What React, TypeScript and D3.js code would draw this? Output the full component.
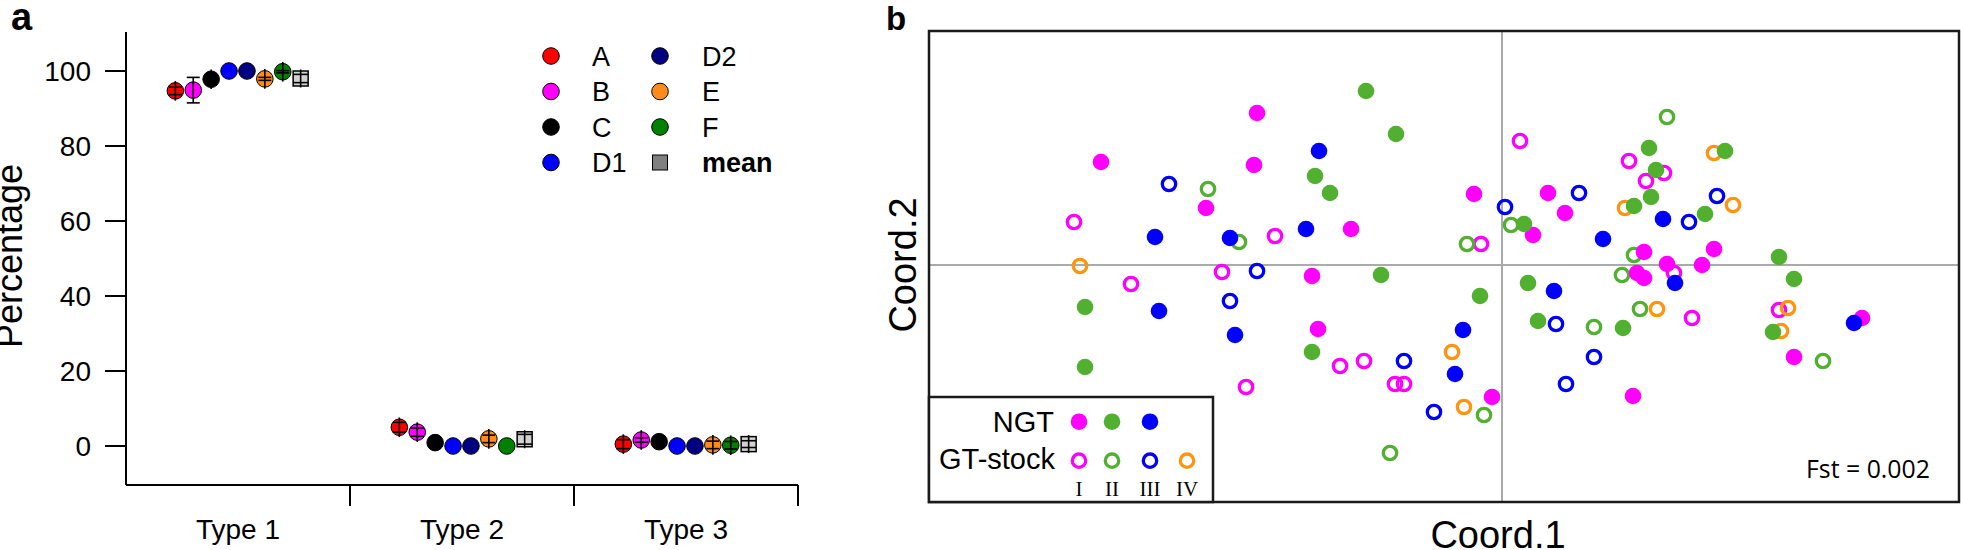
import React from 'react';
import * as d3 from 'd3';

// ---------- Panel a data ----------
const types = ['Type 1', 'Type 2', 'Type 3'];
const groups = ['A', 'B', 'C', 'D1', 'D2', 'E', 'F', 'mean'];
const groupColors = ['#ff0000', '#ff00ff', '#000000', '#0000ff', '#000080', '#ff8c1a', '#008000', '#d2d2d2'];
const legendColors = ['#ff0000', '#ff00ff', '#000000', '#0000ff', '#000080', '#ff8c1a', '#008000', '#808080'];
const type1Values = [94.7, 94.9, 97.8, 100, 100, 97.9, 99.8, 98.0];
const type1Errors = [1.0, 3.4, 0.8, 0, 0, 0.4, 0.3, 1.1];
const type2Values = [5.0, 3.7, 0.9, 0, 0, 1.9, 0, 1.8];
const type2Errors = [1.3, 1.1, 0, 0, 0, 1.0, 0, 1.3];
const type3Values = [0.5, 1.6, 1.15, 0, 0, 0.3, 0.2, 0.5];
const type3Errors = [1.2, 0.6, 0, 0, 0, 1.0, 1.0, 0.9];
const yTicks = [0, 20, 40, 60, 80, 100];

// ---------- Panel b data (Coord.1, Coord.2) ----------
const ngtI: [number, number][] = [
  [-2.45, 1.52], [-4.01, 1.03], [-2.48, 1.0], [-0.28, 0.71], [-2.96, 0.57], [-1.51, 0.36],
  [-1.9, -0.11], [0.46, 0.72], [0.63, 0.52], [0.31, 0.3], [2.12, 0.16], [2.0, 0.0],
  [1.42, 0.13], [1.65, 0.01], [1.35, -0.08], [1.42, -0.13], [-0.1, -1.32], [1.31, -1.31],
  [2.92, -0.92], [3.6, -0.53], [-1.84, -0.64],
];
const ngtII: [number, number][] = [
  [-1.36, 1.74], [-1.06, 1.31], [-1.87, 0.89], [-1.72, 0.72], [-1.21, -0.1], [1.47, 1.17],
  [2.23, 1.14], [1.54, 0.95], [0.22, 0.41], [1.32, 0.59], [1.49, 0.68], [2.03, 0.51],
  [2.77, 0.08], [2.92, -0.14], [0.26, -0.18], [-0.22, -0.31], [0.36, -0.56], [1.21, -0.63],
  [2.71, -0.67], [-4.17, -0.42], [-1.9, -0.87], [-4.17, -1.02],
];
const ngtIII: [number, number][] = [
  [-1.83, 1.14], [-3.47, 0.28], [-2.72, 0.27], [-1.96, 0.36], [1.01, 0.26], [1.61, 0.46],
  [1.73, -0.18], [0.52, -0.26], [-0.39, -0.65], [-0.47, -1.09], [3.52, -0.58], [-3.43, -0.46],
  [-2.67, -0.7],
];
const gtI: [number, number][] = [
  [-4.28, 0.43], [-2.27, 0.29], [-0.21, 0.21], [-2.8, -0.07], [-3.71, -0.19], [0.18, 1.24],
  [1.27, 1.04], [1.62, 0.92], [1.44, 0.84], [1.72, -0.08], [1.9, -0.53], [2.77, -0.45],
  [-1.62, -1.01], [-1.38, -0.96], [-1.07, -1.19], [-0.98, -1.19], [-2.56, -1.22],
];
const gtII: [number, number][] = [
  [-2.94, 0.76], [-2.63, 0.23], [-0.35, 0.21], [1.65, 1.48], [0.09, 0.4], [1.32, 0.1],
  [1.2, -0.1], [-0.18, -1.5], [0.92, -0.62], [1.38, -0.44], [3.21, -0.96], [-1.12, -1.88],
];
const gtIII: [number, number][] = [
  [-3.33, 0.81], [-2.45, -0.06], [0.77, 0.72], [0.03, 0.58], [1.87, 0.43], [2.15, 0.69],
  [0.54, -0.59], [0.92, -0.92], [0.64, -1.19], [-2.72, -0.36], [-0.98, -0.96], [-0.68, -1.47],
];
const gtIV: [number, number][] = [
  [-4.22, -0.01], [2.12, 1.12], [1.23, 0.57], [2.31, 0.6], [-0.5, -0.87], [-0.38, -1.42],
  [1.55, -0.44], [2.86, -0.43], [2.79, -0.66],
];
const popColors = ['#ff00ff', '#52b030', '#0000ff', '#ff9410'];
const romanLabels = ['I', 'II', 'III', 'IV'];
const fstLabel = 'Fst = 0.002';

const SANS = '"Liberation Sans", Arial, Helvetica, sans-serif';

export default function App() {
  // Panel a scales
  const xBand = d3.scaleBand<string>().domain(types).range([126, 798]).paddingInner(0).paddingOuter(0);
  const yA = d3.scaleLinear().domain([-10.4, 110.4]).range([485, 32]);
  const valuesByType = [type1Values, type2Values, type3Values];
  const errorsByType = [type1Errors, type2Errors, type3Errors];
  const step = 17.9;
  const r = 8.3;

  // Panel b scales
  const xB = d3.scaleLinear().domain([-5.73, 4.57]).range([929, 1959]);
  const yB = d3.scaleLinear().domain([-2.37, 2.34]).range([502, 31]);

  const filledSets = [ngtI, ngtII, ngtIII];
  const openSets = [gtI, gtII, gtIII, gtIV];

  const legendRowsY = [56, 91.5, 127, 162.5];

  return (
    <svg width={1961} height={550} style={{ position: 'absolute', left: 0, top: 0, background: '#fff' }} fontFamily={SANS}>
      <rect x={0} y={0} width={1961} height={550} fill="#fff" />
      {/* ---------------- Panel a ---------------- */}
      <text x={11} y={30} fontSize={38} fontWeight="bold">a</text>
      {/* y axis */}
      <line x1={126} x2={126} y1={yA(110.4)} y2={yA(-10.4)} stroke="#000" strokeWidth={2} />
      {yTicks.map((t) => (
        <g key={t}>
          <line x1={105} x2={126} y1={yA(t)} y2={yA(t)} stroke="#000" strokeWidth={2} />
          <text x={91} y={yA(t)} dy="0.36em" textAnchor="end" fontSize={28}>{t}</text>
        </g>
      ))}
      <text transform={`translate(22,256) rotate(-90)`} textAnchor="middle" fontSize={36}>Percentage</text>
      {/* x axis */}
      <line x1={126} x2={798} y1={485} y2={485} stroke="#000" strokeWidth={2} />
      {types.map((t) => (
        <g key={t}>
          <line x1={(xBand(t) as number) + xBand.bandwidth()} x2={(xBand(t) as number) + xBand.bandwidth()} y1={485} y2={506} stroke="#000" strokeWidth={2} />
          <text x={(xBand(t) as number) + xBand.bandwidth() / 2} y={539} textAnchor="middle" fontSize={28}>{t}</text>
        </g>
      ))}
      {/* points */}
      {types.map((t, ti) => {
        const cx0 = (xBand(t) as number) + xBand.bandwidth() / 2;
        return (
          <g key={t}>
            {groups.map((g, gi) => {
              const cx = cx0 + (gi - 3.5) * step;
              const v = valuesByType[ti][gi];
              const e = errorsByType[ti][gi];
              const cy = yA(v);
              const isMean = g === 'mean';
              const half = isMean ? 7.5 : r;
              const capW = isMean ? 7.5 : 6.5;
              const top = e > 0 ? Math.min(yA(v + e), cy - half - 1.5) : cy;
              const bot = e > 0 ? Math.max(yA(v - e), cy + half + 1.5) : cy;
              return (
                <g key={g}>
                  {isMean ? (
                    <rect x={cx - 7.5} y={cy - 7.5} width={15} height={15} fill={groupColors[gi]} stroke="#000" strokeWidth={1.5} />
                  ) : (
                    <circle cx={cx} cy={cy} r={r} fill={groupColors[gi]} stroke="#000" strokeWidth={1} />
                  )}
                  {e > 0 && (
                    <g stroke="#000" strokeWidth={1.6}>
                      <line x1={cx} x2={cx} y1={top} y2={bot} />
                      <line x1={cx - capW} x2={cx + capW} y1={yA(v + e)} y2={yA(v + e)} />
                      <line x1={cx - capW} x2={cx + capW} y1={yA(v - e)} y2={yA(v - e)} />
                    </g>
                  )}
                </g>
              );
            })}
          </g>
        );
      })}
      {/* legend a */}
      {groups.map((g, gi) => {
        const col = gi < 4 ? 0 : 1;
        const row = gi % 4;
        const cx = col === 0 ? 551 : 660;
        const lx = col === 0 ? 592 : 702;
        const cy = legendRowsY[row];
        return (
          <g key={g}>
            {g === 'mean' ? (
              <rect x={cx - 7.5} y={cy - 7.5} width={15} height={15} fill={legendColors[gi]} stroke="#000" strokeWidth={1} />
            ) : (
              <circle cx={cx} cy={cy} r={r} fill={legendColors[gi]} stroke="#000" strokeWidth={1} />
            )}
            <text x={lx} y={cy} dy="0.36em" fontSize={27} fontWeight={g === 'mean' ? 'bold' : 'normal'}>{g}</text>
          </g>
        );
      })}

      {/* ---------------- Panel b ---------------- */}
      <text x={886} y={30} fontSize={33} fontWeight="bold">b</text>
      <line x1={xB(0)} x2={xB(0)} y1={31} y2={502} stroke="#aaaaaa" strokeWidth={2} />
      <line x1={929} x2={1959} y1={yB(0)} y2={yB(0)} stroke="#aaaaaa" strokeWidth={2} />
      {openSets.map((set, si) => (
        <g key={'o' + si}>
          {set.map((p, i) => (
            <circle key={i} cx={xB(p[0])} cy={yB(p[1])} r={6.7} fill="none" stroke={popColors[si]} strokeWidth={3.3} />
          ))}
        </g>
      ))}
      {filledSets.map((set, si) => (
        <g key={'f' + si}>
          {set.map((p, i) => (
            <circle key={i} cx={xB(p[0])} cy={yB(p[1])} r={8.3} fill={popColors[si]} />
          ))}
        </g>
      ))}
      <rect x={929} y={31} width={1030} height={471} fill="none" stroke="#1a1a1a" strokeWidth={2.5} />
      {/* legend b */}
      <rect x={929} y={397} width={284} height={105} fill="#fff" stroke="#1a1a1a" strokeWidth={2.5} />
      <text x={1054} y={432} textAnchor="end" fontSize={29}>NGT</text>
      <text x={1055} y={469} textAnchor="end" fontSize={29}>GT-stock</text>
      {[1079, 1112, 1150].map((x, i) => (
        <circle key={'lf' + i} cx={x} cy={421.7} r={8.3} fill={popColors[i]} />
      ))}
      {[1079, 1112, 1150, 1187].map((x, i) => (
        <g key={'lo' + i}>
          <circle cx={x} cy={460.7} r={6.7} fill="none" stroke={popColors[i]} strokeWidth={3.3} />
          <text x={x} y={496} textAnchor="middle" fontSize={21} fontFamily='"Liberation Serif", "Times New Roman", serif'>{romanLabels[i]}</text>
        </g>
      ))}
      <text x={1930} y={478} textAnchor="end" fontSize={26} fontFamily='"Open Sans", sans-serif' textLength={124} lengthAdjust="spacingAndGlyphs">{fstLabel}</text>
      <text x={1498} y={548} textAnchor="middle" fontSize={38}>Coord.1</text>
      <text transform={`translate(916,${yB(0)}) rotate(-90)`} textAnchor="middle" fontSize={38}>Coord.2</text>
    </svg>
  );
}
